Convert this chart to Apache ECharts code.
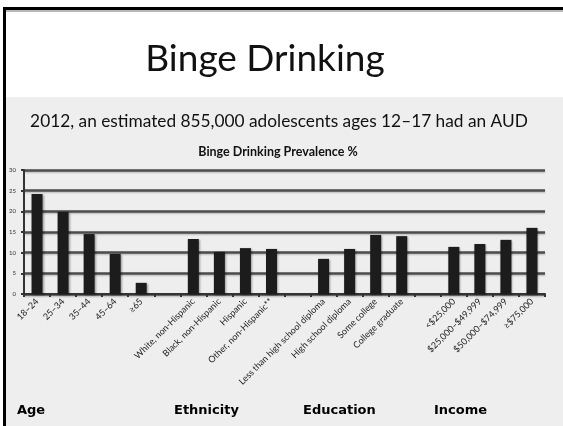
<!DOCTYPE html>
<html>
<head>
<meta charset="utf-8">
<script src="https://cdn.jsdelivr.net/npm/echarts@6/dist/echarts.min.js"></script>
<style>
html,body{margin:0;padding:0;background:#fff;}
#chart{width:563px;height:426px;}
</style>
</head>
<body>
<div id="chart"></div>
<script>
var categories = ['18–24','25–34','35–44','45–64','≥65','',
  'White, non-Hispanic','Black, non-Hispanic','Hispanic','Other, non-Hispanic**','',
  'Less than high school diploma','High school diploma','Some college','College graduate','',
  '<$25,000','$25,000–$49,999','$50,000–$74,999','≥$75,000'];
var prevalence = [24.2, 19.9, 14.5, 9.7, 2.7, null,
  13.3, 10.2, 11.1, 10.9, null,
  8.5, 10.9, 14.3, 14.0, null,
  11.4, 12.1, 13.1, 16.0];
var yTicks = [0, 5, 10, 15, 20, 25, 30];
var groupLabels = ['Age', 'Ethnicity', 'Education', 'Income'];
var mainTitle = 'Binge Drinking';
var subTitle = '2012, an estimated 855,000 adolescents ages 12–17 had an AUD';
var chartTitle = 'Binge Drinking Prevalence %';

var groupX = [17, 174, 303, 434];

var chart = echarts.init(document.getElementById('chart'), null, {renderer:'canvas'});
var graphics = [
  {type:'rect', z:-10, shape:{x:0,y:0,width:563,height:426}, style:{fill:'#ffffff'}, silent:true},
  {type:'rect', z:-9, shape:{x:5,y:97,width:558,height:329}, style:{fill:'#eeeeee'}, silent:true},
  {type:'rect', z:-8, shape:{x:3,y:10,width:560,height:2}, style:{fill:'#b8b8b8'}, silent:true},
  {type:'rect', z:-7, shape:{x:3,y:7,width:560,height:3}, style:{fill:'#000000'}, silent:true},
  {type:'rect', z:-7, shape:{x:3,y:7,width:3,height:419}, style:{fill:'#000000'}, silent:true},
  {type:'text', x:265, y:59, style:{text:mainTitle, fill:'#111', font:'37px Lato', align:'center', verticalAlign:'middle'}},
  {type:'text', x:279, y:121, style:{text:subTitle, fill:'#111', font:'17.3px Lato', align:'center', verticalAlign:'middle'}},
  {type:'text', x:278, y:152, style:{text:chartTitle, fill:'#111', font:'bold 12.5px Lato', align:'center', verticalAlign:'middle'}}
];
groupLabels.forEach(function(g, i){
  graphics.push({type:'text', x:groupX[i], y:411, style:{text:g, fill:'#000', font:'bold 13px "DejaVu Sans"', align:'left', verticalAlign:'middle'}});
});

chart.setOption({
  animation:false,
  backgroundColor:'transparent',
  graphic: graphics,
  grid:{left:24, right:18, top:170, bottom:132, containLabel:false},
  xAxis:{
    type:'category', data:categories,
    axisLine:{show:true, lineStyle:{color:'#333', width:2}},
    axisTick:{show:true, interval:0, length:3, lineStyle:{color:'#333', width:2}},
    axisLabel:{interval:0, rotate:45, fontSize:9, fontFamily:'Lato', color:'#222', margin:6}
  },
  yAxis:{
    type:'value', min:0, max:30, interval:5,
    axisLine:{show:true, lineStyle:{color:'#333', width:2}},
    axisTick:{show:true, length:3, lineStyle:{color:'#333', width:2}},
    axisLabel:{fontSize:6, fontFamily:'Lato', color:'#333', margin:8,
      formatter:function(v){ return yTicks.indexOf(v) >= 0 ? String(v) : ''; }},
    splitLine:{show:true, lineStyle:{color:'#4d4d4d', width:2.5, shadowColor:'rgba(0,0,0,0.25)', shadowBlur:2, shadowOffsetY:1}}
  },
  series:[{
    type:'bar', data:prevalence, barWidth:11,
    itemStyle:{color:'#1c1c1c', shadowColor:'rgba(0,0,0,0.35)', shadowBlur:2, shadowOffsetX:1, shadowOffsetY:1}
  }]
});
</script>
</body>
</html>
